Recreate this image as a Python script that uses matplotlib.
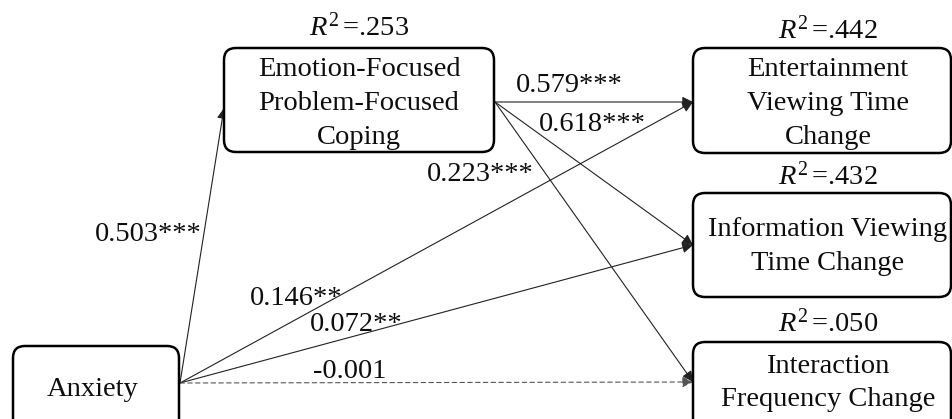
import matplotlib.pyplot as plt
from matplotlib.patches import FancyBboxPatch

plt.rcParams['font.family'] = ['Liberation Serif', 'DejaVu Serif']
plt.rcParams['mathtext.fontset'] = 'custom'
plt.rcParams['mathtext.rm'] = 'Liberation Serif'
plt.rcParams['mathtext.it'] = 'Liberation Serif:italic'

# model data
node_names = ["anx", "cop", "ent", "inf", "int"]
node_labels = ["Anxiety",
               "Emotion-Focused\nProblem-Focused\nCoping",
               "Entertainment\nViewing Time\nChange",
               "Information Viewing\nTime Change",
               "Interaction\nFrequency Change"]
r_squared = [None, ".253", ".442", ".432", ".050"]

path_from = ["anx", "cop", "cop", "cop", "anx", "anx", "anx"]
path_to = ["cop", "ent", "inf", "int", "ent", "inf", "int"]
path_coef = [0.503, 0.579, 0.618, 0.223, 0.146, 0.072, -0.001]
path_stars = ["***", "***", "***", "***", "**", "**", ""]

# layout in pixel units (x0, y0, x1, y1), y downward
boxes = {"anx": (13, 346, 179, 432),
         "cop": (224, 48, 494, 152),
         "ent": (693, 48, 951, 153),
         "inf": (693, 193, 951, 297),
         "int": (693, 342, 951, 432)}
line_y = {"anx": [389],
          "cop": [69, 103, 137],
          "ent": [69, 103, 137],
          "inf": [229, 263],
          "int": [366, 399]}
text_x = {"anx": 93, "cop": 359, "ent": 828, "inf": 828, "int": 828}
r2_y = {"cop": 27, "ent": 30, "inf": 176, "int": 323}
src_pt = {"anx": (180, 383), "cop": (495, 102)}
dst_pt = {"cop": (224, 108), "ent": (693, 102), "inf": (693, 245), "int": (693, 382)}
label_pos = [(148, 234), (569, 86), (592, 124), (480, 174),
             (296, 298), (356, 324), (350, 371)]

fig = plt.figure(figsize=(9.52, 4.19), dpi=100)
ax = fig.add_axes([0, 0, 1, 1])
ax.set_xlim(0, 952)
ax.set_ylim(419, 0)
ax.axis('off')

fs = 20.5
ink = '#0d0d0d'

for name, label, r2 in zip(node_names, node_labels, r_squared):
    x0, y0, x1, y1 = boxes[name]
    box = FancyBboxPatch((x0 + 12, y0 + 12), (x1 - x0) - 24, (y1 - y0) - 24,
                         boxstyle="round,pad=12", fc='white', ec='black', lw=1.8,
                         zorder=2)
    ax.add_patch(box)
    for line, y in zip(label.split("\n"), line_y[name]):
        ax.text(text_x[name], y, line, ha='center', va='center', fontsize=fs,
                color=ink, zorder=3)
    if r2 is not None:
        ax.text(text_x[name], r2_y[name], r'$R^{\mathit{2}}\,$' + "=" + r2,
                ha='center', va='center', fontsize=fs, color=ink, zorder=3)

for src, dst, coef, stars, (lx, ly) in zip(path_from, path_to, path_coef,
                                           path_stars, label_pos):
    dashed = stars == ""
    ax.annotate("", xy=dst_pt[dst], xytext=src_pt[src],
                arrowprops=dict(arrowstyle='-|>', mutation_scale=16,
                                color='#555555' if dashed else '#222222',
                                lw=0.8, ls=(0, (4, 3)) if dashed else '-',
                                shrinkA=0, shrinkB=0),
                zorder=1)
    ax.text(lx, ly, f"{coef:.3f}{stars}", ha='center', va='center', fontsize=fs,
            color=ink, zorder=3)

fig.savefig("out.png", dpi=100)
